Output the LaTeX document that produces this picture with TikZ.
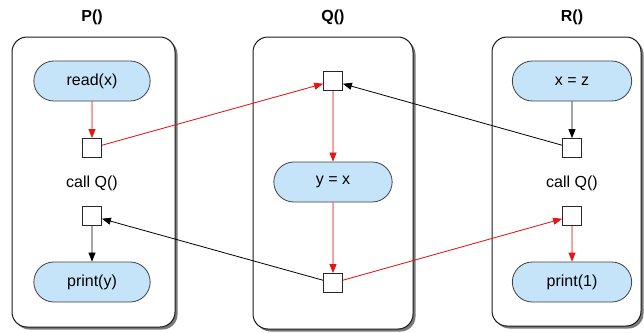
\documentclass[tikz,border=0pt]{standalone}
\usepackage{fontspec}
\setmainfont{Liberation Sans}
\usetikzlibrary{arrows.meta,shapes.misc,shadows}
\definecolor{stmtblue}{RGB}{198,228,249}
\definecolor{flowred}{RGB}{232,20,20}
\tikzset{
    frame/.style={draw=black!90, fill=white, line width=1pt, rounded corners=15pt,
        drop shadow={shadow xshift=2.5pt, shadow yshift=-2.5pt, opacity=0.75, fill=black!70}},
    stmt/.style={draw=black!75, fill=stmtblue, line width=0.8pt, rounded rectangle,
        minimum width=123pt, minimum height=40pt, font=\fontsize{16}{19}\selectfont},
    port/.style={draw=black!85, fill=white, line width=0.8pt, minimum size=19pt, inner sep=0pt},
    title/.style={font=\fontsize{16}{19}\selectfont\bfseries},
    plain/.style={font=\fontsize{16}{19}\selectfont},
    flow/.style={-{Triangle[length=9pt,width=7pt]}, line width=0.8pt},
    dflow/.style={flow, draw=flowred, fill=flowred}
}
\begin{document}
\begin{tikzpicture}[x=1pt, y=-1pt]
    \useasboundingbox (0,0) rectangle (644,332);

    % Procedure frames
    \node[frame, minimum width=163pt, minimum height=290pt] (Pbox) at (93.5,182) {};
    \node[frame, minimum width=160pt, minimum height=292pt] (Qbox) at (333,183) {};
    \node[frame, minimum width=149pt, minimum height=289pt] (Rbox) at (566.5,181.5) {};

    % Titles
    \foreach \name/\x in {P/92, Q/333, R/572} {
        \node[title] (\name title) at (\x,17) {\name()};
    }

    % P()
    \node[stmt] (readx) at (92,81) {read(x)};
    \node[port] (Pcall) at (92,148) {};
    \node[plain] (Pcalltext) at (92,183) {call Q()};
    \node[port] (Pret) at (92,216) {};
    \node[stmt] (printy) at (92,282) {print(y)};

    % Q()
    \node[port] (Qentry) at (333,81) {};
    \node[stmt, minimum width=125pt] (yx) at (333,182) {y = x};
    \node[port] (Qexit) at (333,283) {};

    % R()
    \node[stmt, minimum width=126pt] (xz) at (572,81) {x = z};
    \node[port] (Rcall) at (572,148) {};
    \node[plain] (Rcalltext) at (572,183) {call Q()};
    \node[port] (Rret) at (572,216) {};
    \node[stmt, minimum width=126pt] (print1) at (572,282) {print(1)};

    % Edges inside procedures
    \draw[dflow] (readx) -- (Pcall);
    \draw[flow] (Pret) -- (printy);
    \draw[dflow] (Qentry) -- (yx);
    \draw[dflow] (yx) -- (Qexit);
    \draw[flow] (xz) -- (Rcall);
    \draw[dflow] (Rret) -- (print1);

    % Call and return edges
    \draw[dflow] (Pcall) -- (Qentry);
    \draw[flow] (Rcall) -- (Qentry);
    \draw[flow] (Qexit) -- (Pret);
    \draw[dflow] (Qexit) -- (Rret);
\end{tikzpicture}
\end{document}
